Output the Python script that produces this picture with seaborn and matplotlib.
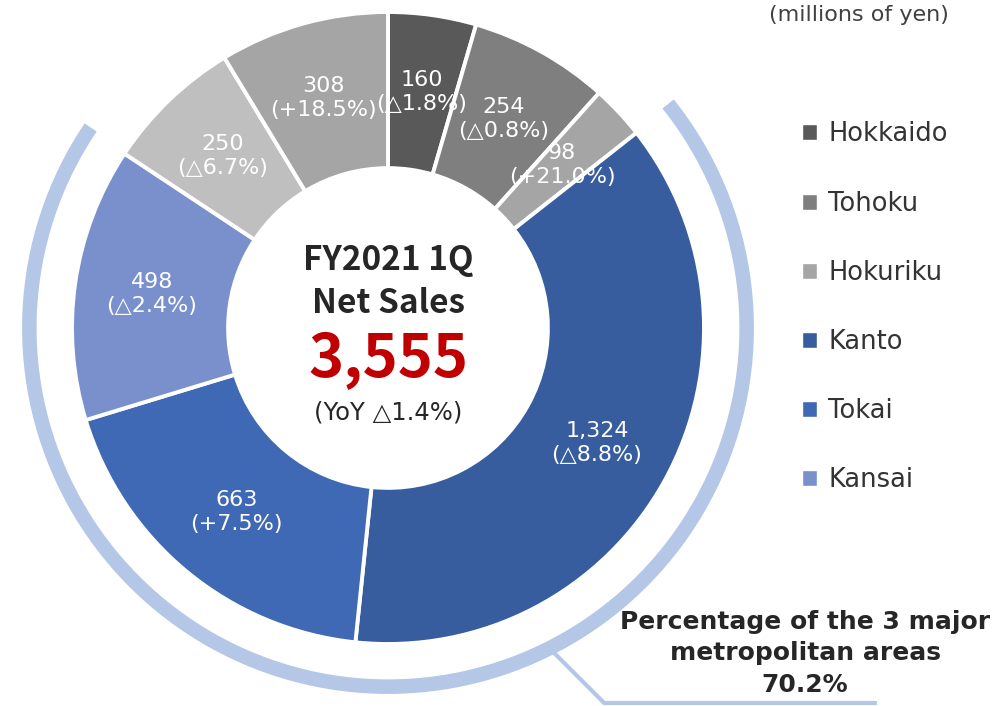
import numpy as np
import matplotlib
matplotlib.use("Agg")
import matplotlib.pyplot as plt
from matplotlib.patches import Wedge, Patch
import seaborn as sns

# data (millions of yen)
regions = ["Hokkaido", "Tohoku", "Hokuriku", "Kanto", "Tokai", "Kansai", "Chugoku", "Kyushu"]
sales = [160, 254, 98, 1324, 663, 498, 250, 308]
yoy = ["△1.8%", "△0.8%", "+21.0%", "△8.8%", "+7.5%", "△2.4%", "△6.7%", "+18.5%"]
colors = ["#595959", "#7f7f7f", "#a5a5a5", "#385d9f", "#3f69b5", "#7990cd", "#bfbfbf", "#a5a5a5"]
legend_regions = ["Hokkaido", "Tohoku", "Hokuriku", "Kanto", "Tokai", "Kansai"]
metro_regions = ["Kanto", "Tokai", "Kansai"]
total_text = "3,555"
total_yoy = "△1.4%"
metro_share = "70.2%"

sns.set_theme(style="white")
plt.rcParams["font.family"] = ["DejaVu Sans"]

R = 316.0  # outer radius in px
fig = plt.figure(figsize=(10.06, 7.06), dpi=100)
ax = fig.add_axes([0, 0, 1, 1])

wedges, _ = ax.pie(sales, colors=colors, startangle=90, counterclock=False, radius=1,
                   wedgeprops=dict(width=0.494, edgecolor="white", linewidth=2.8))

# value labels
for w, v, p in zip(wedges, sales, yoy):
    ang = np.deg2rad((w.theta1 + w.theta2) / 2)
    ax.text(0.755 * np.cos(ang), 0.755 * np.sin(ang), f"{v:,}\n({p})",
            ha="center", va="center", color="white", fontsize=16, linespacing=1.25)

# arc around the 3 major metropolitan areas
mw = [wedges[regions.index(r)] for r in metro_regions]
t1 = min(w.theta1 for w in mw)
t2 = max(w.theta2 for w in mw)
ax.add_patch(Wedge((0, 0), 1.158, t1 - 0.5, t2 + 0.5, width=0.046,
                   facecolor="#b4c7e7", edgecolor="none"))

a = np.deg2rad(-63)
x0, y0 = 1.15 * np.cos(a), 1.15 * np.sin(a)
yb = -375 / R
ax.plot([x0, x0 + (y0 - yb), 1.547], [y0, yb, yb], color="#b4c7e7", lw=3,
        solid_capstyle="butt", clip_on=False)

ax.text(1.32, -1.03, f"Percentage of the 3 major\nmetropolitan areas\n{metro_share}",
        ha="center", va="center", fontsize=18, fontweight="bold", color="#262626",
        linespacing=1.4)

# centre text
cjk = ["Noto Sans CJK JP", "DejaVu Sans"]
ax.text(0, 0.213, "FY2021 1Q", ha="center", va="center", fontsize=24,
        fontweight="bold", color="#262626", family=cjk)
ax.text(0, 0.078, "Net Sales", ha="center", va="center", fontsize=24,
        fontweight="bold", color="#262626", family=cjk)
ax.text(0, -0.1, total_text, ha="center", va="center", fontsize=43,
        fontweight="bold", color="#c00000", family=cjk)
ax.text(0, -0.268, f"(YoY {total_yoy})", ha="center", va="center", fontsize=17.5,
        color="#262626")

ax.set_xlim(-388 / R, 618 / R)
ax.set_ylim(-378 / R, 328 / R)
ax.set_aspect("equal")
ax.axis("off")

handles = [Patch(facecolor=wedges[regions.index(r)].get_facecolor()) for r in legend_regions]
fig.legend(handles, legend_regions, loc="upper left", bbox_to_anchor=(0.797, 0.828),
           frameon=False, fontsize=18.5, handlelength=0.58, handleheight=0.58,
           labelspacing=1.68, handletextpad=0.45, borderpad=0, borderaxespad=0,
           labelcolor="#333333")

fig.text(0.943, 1 - 15 / 706, "(millions of yen)", ha="right", va="center",
         fontsize=16, color="#404040")

fig.savefig("out.png", dpi=100)
